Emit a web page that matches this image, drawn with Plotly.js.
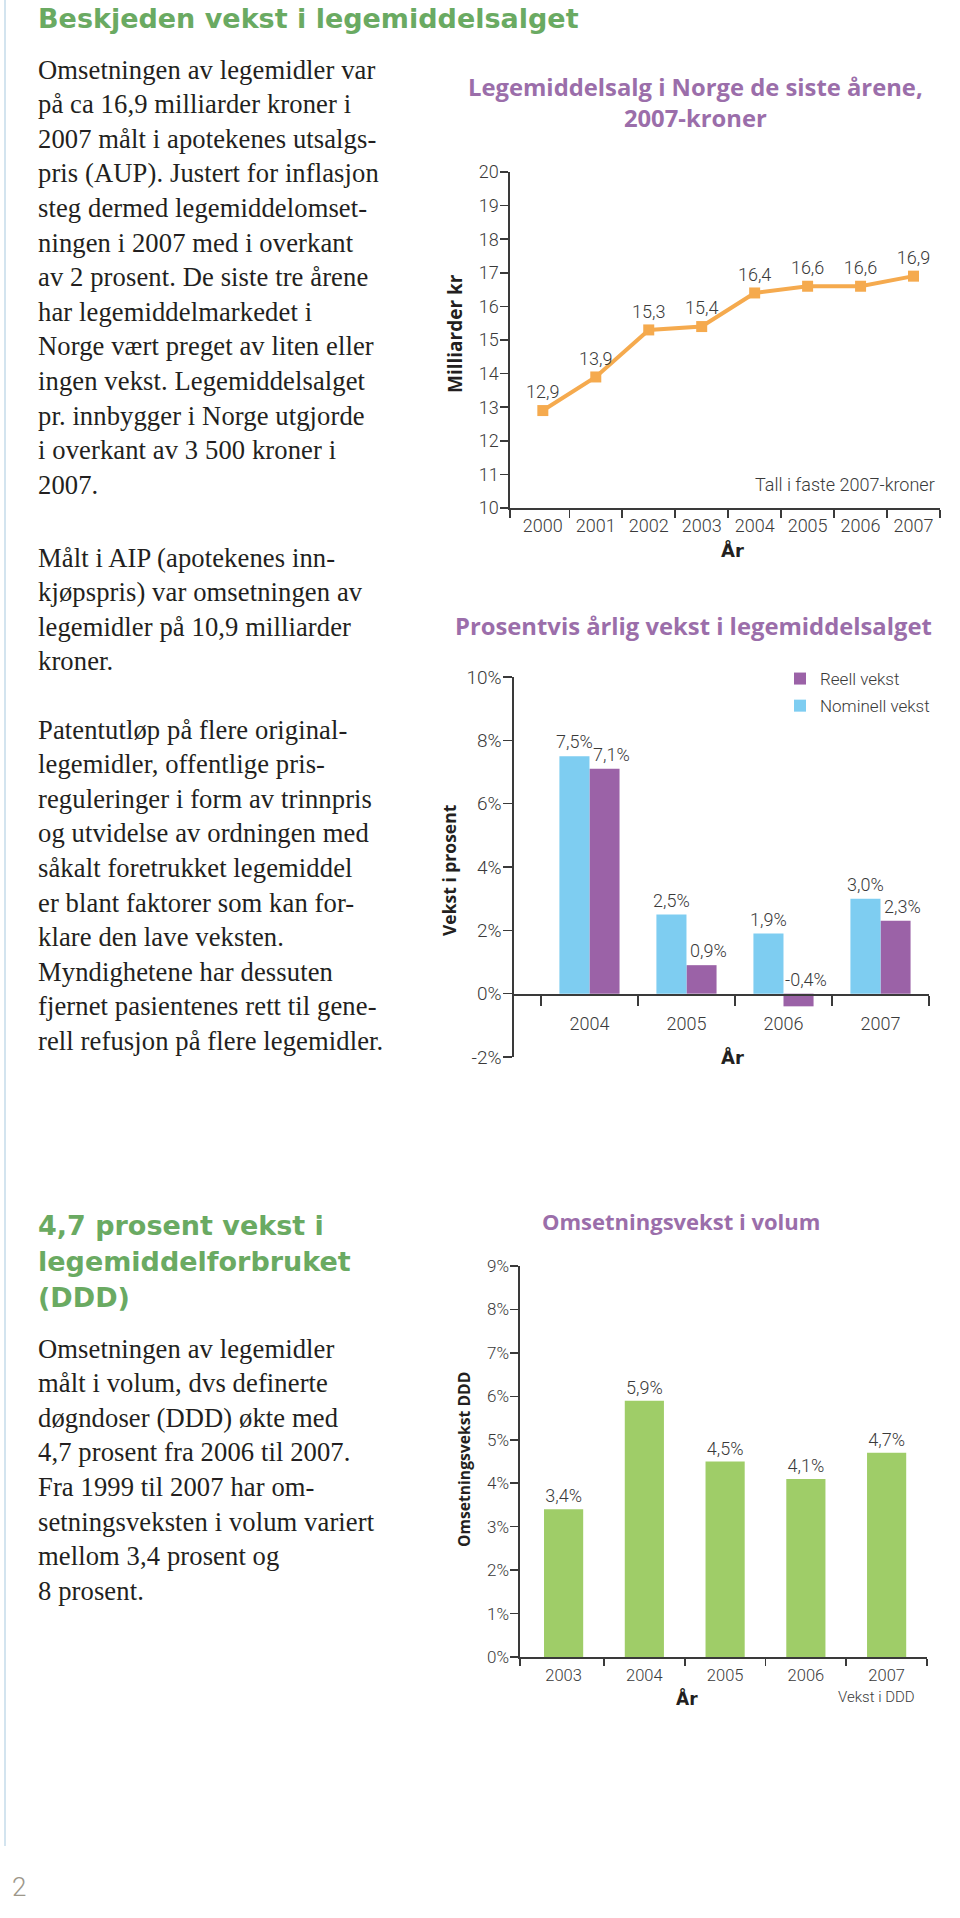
<!DOCTYPE html>
<html>
<head>
<meta charset="utf-8">
<script src="https://cdn.plot.ly/plotly-3.0.1.min.js"></script>
<style>
html,body{margin:0;padding:0;background:#fff;}
#page{position:relative;width:960px;height:1918px;overflow:hidden;background:#fff;}
#chart{position:absolute;left:0;top:0;width:960px;height:1918px;z-index:1;}
.txt{position:absolute;z-index:5;white-space:nowrap;color:#231f20;}
.head{font-family:'DejaVu Sans',sans-serif;font-weight:700;font-size:27px;line-height:36px;color:#6aaa62;left:38px;}
.body{font-family:'Liberation Serif',serif;font-size:26.6px;line-height:34.6px;letter-spacing:0.1px;left:38px;}
#rule{position:absolute;left:4px;top:0;width:2px;height:1846px;background:#d3e4ef;z-index:2;}
#pageno{position:absolute;left:12px;top:1872px;font-family:Roboto,sans-serif;font-weight:300;font-size:26px;color:#9d978a;z-index:5;}
</style>
</head>
<body>
<div id="page">
  <div id="chart"></div>
  <div id="rule"></div>
  <div id="h1" class="txt head" style="top:0.6px;"></div>
  <div id="p1" class="txt body" style="top:52.7px;"></div>
  <div id="p2" class="txt body" style="top:540.7px;"></div>
  <div id="p3" class="txt body" style="top:712.7px;"></div>
  <div id="h2" class="txt head" style="top:1207.6px;"></div>
  <div id="p4" class="txt body" style="top:1331.7px;"></div>
  <div id="pageno">2</div>
</div>
<script>
// ---------- Text content ----------
const heading1 = ['Beskjeden vekst i legemiddelsalget'];
const para1 = [
  'Omsetningen av legemidler var',
  'på ca 16,9 milliarder kroner i',
  '2007 målt i apotekenes utsalgs-',
  'pris (AUP). Justert for inflasjon',
  'steg dermed legemiddelomset-',
  'ningen i 2007 med i overkant',
  'av 2 prosent. De siste tre årene',
  'har legemiddelmarkedet i',
  'Norge vært preget av liten eller',
  'ingen vekst. Legemiddelsalget',
  'pr. innbygger i Norge utgjorde',
  'i overkant av 3 500 kroner i',
  '2007.'
];
const para2 = [
  'Målt i AIP (apotekenes inn-',
  'kjøpspris) var omsetningen av',
  'legemidler på 10,9 milliarder',
  'kroner.'
];
const para3 = [
  'Patentutløp på flere original-',
  'legemidler, offentlige pris-',
  'reguleringer i form av trinnpris',
  'og utvidelse av ordningen med',
  'såkalt foretrukket legemiddel',
  'er blant faktorer som kan for-',
  'klare den lave veksten.',
  'Myndighetene har dessuten',
  'fjernet pasientenes rett til gene-',
  'rell refusjon på flere legemidler.'
];
const heading2 = ['4,7 prosent vekst i', 'legemiddelforbruket', '(DDD)'];
const para4 = [
  'Omsetningen av legemidler',
  'målt i volum, dvs definerte',
  'døgndoser (DDD) økte med',
  '4,7 prosent fra 2006 til 2007.',
  'Fra 1999 til 2007 har om-',
  'setningsveksten i volum variert',
  'mellom 3,4 prosent og',
  '8 prosent.'
];

// ---------- Chart data ----------
const salesYears = ['2000','2001','2002','2003','2004','2005','2006','2007'];
const salesValues = [12.9, 13.9, 15.3, 15.4, 16.4, 16.6, 16.6, 16.9];
const salesTicks = [10,11,12,13,14,15,16,17,18,19,20];

const growthYears = ['2004','2005','2006','2007'];
const nominalGrowth = [7.5, 2.5, 1.9, 3.0];
const realGrowth = [7.1, 0.9, -0.4, 2.3];
const growthTicks = [-2,0,2,4,6,8,10];
const growthTickLabels = ['-2%','0%','2%','4%','6%','8%','10%'];

const volumeYears = ['2003','2004','2005','2006','2007'];
const volumeGrowth = [3.4, 5.9, 4.5, 4.1, 4.7];
const volumeTicks = [0,1,2,3,4,5,6,7,8,9];
const volumeTickLabels = ['0%','1%','2%','3%','4%','5%','6%','7%','8%','9%'];

// ---------- Prose ----------
document.getElementById('h1').innerHTML = heading1.join('<br>');
document.getElementById('p1').innerHTML = para1.join('<br>');
document.getElementById('p2').innerHTML = para2.join('<br>');
document.getElementById('p3').innerHTML = para3.join('<br>');
document.getElementById('h2').innerHTML = heading2.join('<br>');
document.getElementById('p4').innerHTML = para4.join('<br>');

// ---------- Helpers ----------
const W = 960, H = 1918;
const px = x => x / W;
const py = y => 1 - y / H;
const idx = arr => arr.map((_, i) => i);
const bounds = (arr, start) => [start].concat(arr.map((_, i) => i + 0.5));
const fmt = v => v.toFixed(1).replace('.', ',');

const axisColor = '#3a3a3a';
const lightFont = (size) => ({family: 'Roboto, sans-serif', size: size, color: '#3a3a3a', weight: 300});
const boldFont = (size, color) => ({family: "'Open Sans', sans-serif", size: size, color: color || '#231f20', weight: 700});
const heavyFont = (size) => ({family: "'DejaVu Sans', sans-serif", size: size, color: '#231f20', weight: 700});
const purple = '#9b6eaa';

const orange = '#f5aa4e';
const blue = '#7ecdf1';
const violet = '#9b62a7';
const green = '#9fcd68';

const xRange1 = [-0.62, 7.5];
const xRange2 = [-0.778, 3.5];
const xRange3 = [-0.54, 4.5];

const baseX = {
  type: 'linear', showgrid: false, zeroline: false, showline: true,
  linecolor: axisColor, linewidth: 1.6, fixedrange: true, tickmode: 'array',
  ticks: 'outside', tickcolor: 'rgba(0,0,0,0)'
};
const baseY = {
  type: 'linear', showgrid: false, zeroline: false, showline: true,
  linecolor: axisColor, linewidth: 1.6, fixedrange: true, tickmode: 'array',
  ticks: 'outside', tickcolor: axisColor, tickwidth: 1.6, ticklabelstandoff: -2
};

const traces = [
  {
    type: 'scatter', x: idx(salesYears), y: salesValues, xaxis: 'x', yaxis: 'y',
    mode: 'lines+markers+text',
    line: {color: orange, width: 4},
    marker: {symbol: 'square', size: 11, color: orange},
    text: salesValues.map(fmt), textposition: 'top center',
    textfont: lightFont(18), showlegend: false, cliponaxis: false, hoverinfo: 'skip'
  },
  {
    type: 'bar', name: 'Reell vekst', legendgroup: 'r', x: idx(growthYears), y: realGrowth,
    xaxis: 'x2', yaxis: 'y2', width: 0.31, offset: 0,
    marker: {color: violet, line: {width: 0}}, hoverinfo: 'skip'
  },
  {
    type: 'bar', name: 'Nominell vekst', legendgroup: 'n', x: idx(growthYears), y: nominalGrowth,
    xaxis: 'x2', yaxis: 'y2', width: 0.31, offset: -0.31,
    marker: {color: blue, line: {width: 0}}, hoverinfo: 'skip'
  },
  {
    type: 'bar', name: 'Vekst i DDD', x: idx(volumeYears), y: volumeGrowth,
    xaxis: 'x3', yaxis: 'y3', width: 0.485,
    marker: {color: green, line: {width: 0}},
    text: volumeGrowth.map(v => fmt(v) + '%'), textposition: 'outside',
    textfont: lightFont(18), showlegend: false, cliponaxis: false, hoverinfo: 'skip'
  }
];

const annotations = [];
const ann = (o) => annotations.push(Object.assign({xref: 'paper', yref: 'paper', showarrow: false, xanchor: 'center', yanchor: 'middle'}, o));

// chart titles
ann({text: 'Legemiddelsalg i Norge de siste årene,<br>2007-kroner', x: px(695), y: py(102), font: boldFont(23.8, purple)});
ann({text: 'Prosentvis årlig vekst i legemiddelsalget', x: px(693), y: py(626), font: boldFont(23.8, purple)});
ann({text: 'Omsetningsvekst i volum', x: px(681), y: py(1221), font: boldFont(22, purple)});

// axis titles
ann({text: 'Milliarder kr', x: px(455), y: py(334), textangle: -90, font: boldFont(19)});
ann({text: 'År', x: px(732), y: py(550), font: heavyFont(18)});
ann({text: 'Vekst i prosent', x: px(449), y: py(870), textangle: -90, font: boldFont(17.5)});
ann({text: 'År', x: px(732), y: py(1057), font: heavyFont(18)});
ann({text: 'Omsetningsvekst DDD', x: px(464), y: py(1460), textangle: -90, font: boldFont(15.7)});
ann({text: 'År', x: px(687), y: py(1698), font: heavyFont(17)});

// notes
ann({text: 'Tall i faste 2007-kroner', x: px(937), y: py(484), xanchor: 'right', font: lightFont(18)});
ann({text: 'Vekst i DDD', x: px(876), y: py(1697), font: lightFont(15)});

// bar labels chart 2
nominalGrowth.forEach((v, i) => annotations.push({
  x: i - 0.155, y: Math.max(v, 0), xref: 'x2', yref: 'y2', showarrow: false,
  xanchor: 'center', yanchor: 'bottom', yshift: 2, text: fmt(v) + '%', font: lightFont(18)
}));
realGrowth.forEach((v, i) => annotations.push({
  x: i + 0.155, y: Math.max(v, 0), xref: 'x2', yref: 'y2', showarrow: false,
  xanchor: 'center', yanchor: 'bottom', yshift: 2, xshift: 7, text: fmt(v) + '%', font: lightFont(18)
}));

const layout = {
  width: W, height: H,
  margin: {l: 0, r: 0, t: 0, b: 0, pad: 0},
  paper_bgcolor: 'rgba(0,0,0,0)', plot_bgcolor: 'rgba(0,0,0,0)',
  barmode: 'group',
  font: {family: 'Roboto, sans-serif', color: '#3a3a3a'},
  showlegend: true,
  legend: {
    x: px(780), y: py(661), xanchor: 'left', yanchor: 'top',
    traceorder: 'grouped', tracegroupgap: 2, itemwidth: 30,
    bgcolor: 'rgba(0,0,0,0)', borderwidth: 0, font: lightFont(17)
  },
  xaxis: Object.assign({}, baseX, {
    domain: [px(510), px(940)], range: xRange1, anchor: 'y',
    tickvals: idx(salesYears), ticktext: salesYears, ticklen: 1, tickfont: lightFont(18),
    minor: {tickmode: 'array', tickvals: bounds(salesYears, xRange1[0]), ticks: 'outside', ticklen: 8, tickcolor: axisColor, tickwidth: 1.6, showgrid: false}
  }),
  yaxis: Object.assign({}, baseY, {
    domain: [py(508), py(172)], range: [10, 20], anchor: 'x',
    tickvals: salesTicks, ticktext: salesTicks.map(String), ticklen: 8, tickfont: lightFont(18)
  }),
  xaxis2: Object.assign({}, baseX, {
    domain: [px(514), px(929)], range: xRange2, anchor: 'free', position: py(994),
    tickvals: idx(growthYears), ticktext: growthYears, ticklen: 13, tickfont: lightFont(18),
    minor: {tickmode: 'array', tickvals: bounds(growthYears, -0.5).slice(1).concat([-0.5]), ticks: 'outside', ticklen: 10, tickcolor: axisColor, tickwidth: 1.6, showgrid: false}
  }),
  yaxis2: Object.assign({}, baseY, {
    domain: [py(1057), py(677)], range: [-2, 10], anchor: 'x2',
    tickvals: growthTicks, ticktext: growthTickLabels, ticklen: 9, tickfont: lightFont(19)
  }),
  xaxis3: Object.assign({}, baseX, {
    domain: [px(520), px(927)], range: xRange3, anchor: 'y3',
    tickvals: idx(volumeYears), ticktext: volumeYears, ticklen: 3, tickfont: lightFont(16.5),
    minor: {tickmode: 'array', tickvals: bounds(volumeYears, xRange3[0]), ticks: 'outside', ticklen: 7, tickcolor: axisColor, tickwidth: 1.6, showgrid: false}
  }),
  yaxis3: Object.assign({}, baseY, {
    domain: [py(1657), py(1266)], range: [0, 9], anchor: 'x3',
    tickvals: volumeTicks, ticktext: volumeTickLabels, ticklen: 8, tickfont: lightFont(17)
  }),
  annotations: annotations
};

Plotly.newPlot('chart', traces, layout, {displayModeBar: false, staticPlot: true});
</script>
</body>
</html>
